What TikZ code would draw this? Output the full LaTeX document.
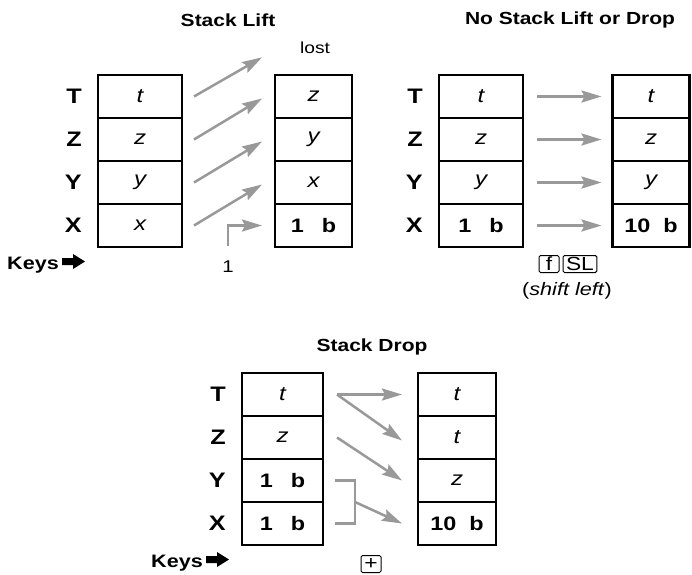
\documentclass[tikz,border=0pt]{standalone}
\usepackage{fontspec}
\setmainfont{Liberation Sans}[FakeStretch=1.2]
\usetikzlibrary{arrows.meta}
\usetikzlibrary{positioning}
\definecolor{movegray}{gray}{0.6}
\tikzset{
  reg/.style={draw=black, line width=2.5pt, outer sep=0pt, inner sep=0pt,
    minimum height=43pt, font=\fontsize{20}{20}\selectfont\itshape},
  regname/.style={inner sep=0pt, font=\fontsize{21}{21}\selectfont\bfseries},
  title/.style={font=\fontsize{17.5}{18}\selectfont\bfseries},
  mv/.style={draw=movegray, line width=2.5pt, -{Stealth[length=20pt,width=12pt,inset=3pt]}},
  brk/.style={draw=movegray, line width=2.5pt},
  keys/.style={inner sep=0pt, font=\fontsize{18}{18}\selectfont\bfseries},
  keyarrow/.style={fill=black},
  keycap/.style={draw=black, line width=1pt, rounded corners=1.5pt, inner xsep=3pt, inner ysep=1pt,
    minimum height=17pt, minimum width=20pt, font=\fontsize{19}{19}\selectfont},
}
\newcommand\regone{{\upshape\bfseries\fontsize{19.5}{19.5}\selectfont 1\hspace{18pt}b}}
\newcommand\regten{{\upshape\bfseries\fontsize{19.5}{19.5}\selectfont 10\hspace{13pt}b}}

\begin{document}
\begin{tikzpicture}[x=1pt, y=-1pt]
	\useasboundingbox (0,0) rectangle (692,574);
	
	% titles
	\node[title] (liftTitle) at (228,20) {Stack Lift};
	\node[title] (noneTitle) at (570,20) {No Stack Lift or Drop};
	\node[title] (dropTitle) at (372,347) {Stack Drop};
	
	% stack lift: before (A) and after (B)
	\foreach \r/\v [count=\i] in {T/t, Z/z, Y/y, X/x}
	\node[reg, minimum width=84pt] (A\r) at (140,53.5+43*\i) {\v};
	\foreach \r/\v [count=\i] in {T/z, Z/y, Y/x, X/\regone}
	\node[reg, minimum width=77pt] (B\r) at (313.5,53.5+43*\i) {\v};
	
	% no lift or drop: before (C) and after (D)
	\foreach \r/\v [count=\i] in {T/t, Z/z, Y/y, X/\regone}
	\node[reg, minimum width=84pt] (C\r) at (481,53.5+43*\i) {\v};
	\foreach \r/\v [count=\i] in {T/t, Z/z, Y/y, X/\regten}
	\node[reg, minimum width=77pt] (D\r) at (651,53.5+43*\i) {\v};
	
	% stack drop: before (E) and after (F)
	\foreach \r/\v [count=\i] in {T/t, Z/z, Y/\regone, X/\regone}
	\node[reg, minimum width=81pt] (E\r) at (282.5,351.5+43*\i) {\v};
	\foreach \r/\v [count=\i] in {T/t, Z/t, Y/z, X/\regten}
	\node[reg, minimum width=78pt] (F\r) at (457,351.5+43*\i) {\v};
	
	% register names
	\foreach \s in {A, C, E}
	\foreach \r in {T, Z, Y, X}
	\node[regname, left=16pt of \s\r] (n\s\r) {\r};
	
	% lift arrows
	\node[font=\fontsize{16}{16}\selectfont] (lost) at (315,48) {lost};
	\draw[mv] ([xshift=12pt]AT.east) -- ([xshift=-13pt]BT.west |- lost.south);
	\foreach \from/\to in {Z/T, Y/Z, X/Y}
	\draw[mv] ([xshift=12pt]A\from.east) -- ([xshift=-13pt,yshift=-2pt]B\to.west);
	\node[font=\fontsize{17}{17}\selectfont] (keyone) at (228,267) {1};
	\draw[mv] ([yshift=12pt]keyone.north) |- ([xshift=-13pt]BX.west);
	
	% shift arrows
	\foreach \r in {T, Z, Y, X}
	\draw[mv] ([xshift=14pt]C\r.east) -- ([xshift=-11pt]D\r.west);
	\node[keycap] (kf) at (549,264) {f};
	\node[keycap, right=3pt of kf] (kSL) {SL};
	\node[font=\fontsize{18}{18}\selectfont] (shiftnote) at (567,291) {(\textit{shift left})};
	
	% drop arrows
	\draw[mv] ([xshift=14pt]ET.east) -- ([xshift=-16pt]FT.west);
	\draw[mv] ([xshift=14pt]ET.east) -- ([xshift=-16pt,yshift=-3pt]FZ.west);
	\draw[mv] ([xshift=14pt]EZ.east) -- ([xshift=-16pt]FY.west);
	\coordinate (sum) at ([xshift=32pt]EY.south east);
	\draw[brk] ([xshift=12pt]EY.east) -| (sum) |- ([xshift=12pt]EX.east);
	\draw[mv] (sum) -- ([xshift=-16pt]FX.west);
	\node[keycap] (kplus) at (371,564) {+};
	
	% keys
	\node[keys] (keysA) at (33,265) {Keys};
	\node[keys] (keysE) at (177,563) {Keys};
	\foreach \k in {keysA, keysE}
	\fill[keyarrow] ([xshift=3pt,yshift=7pt]\k.east) -- ++(11,0) -- ++(0,-4)
	  -- ++(12,7.5) -- ++(-12,7.5) -- ++(0,-4) -- ++(-11,0) -- cycle;
\end{tikzpicture}
\end{document}
